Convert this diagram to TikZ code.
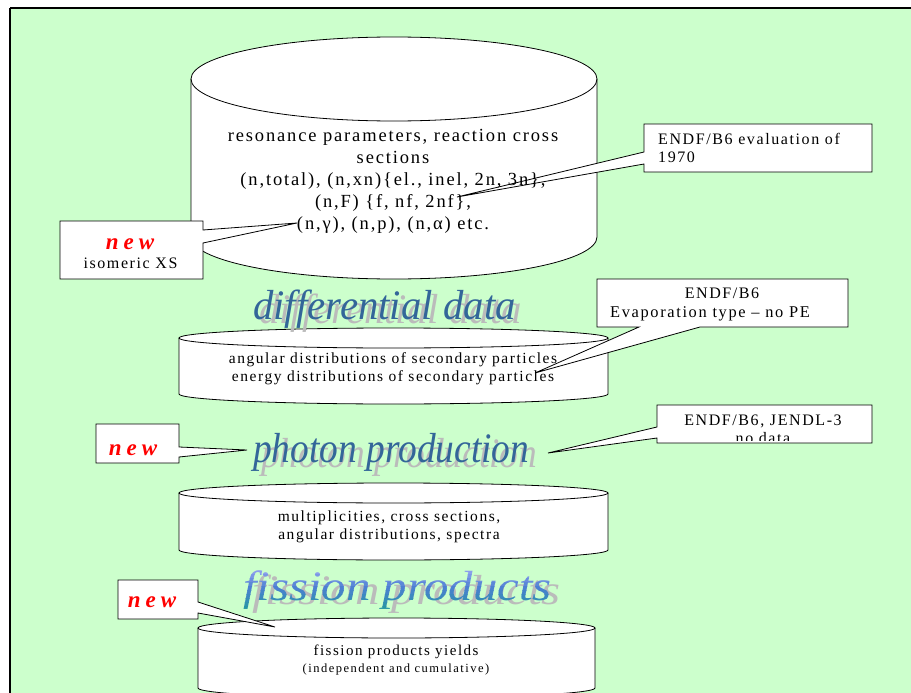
\documentclass[tikz,border=0pt]{standalone}
\usepackage{fontspec}
\setmainfont{Liberation Serif}
\newfontfamily\trk[LetterSpace=10]{Liberation Serif}
\newfontfamily\trkwide[LetterSpace=12]{Liberation Serif}
\newfontfamily\tagfont[LetterSpace=22]{Liberation Serif}
\usetikzlibrary{calc}

\definecolor{panelgreen}{HTML}{CCFFCC}
\definecolor{titleblue}{HTML}{336699}
\definecolor{shadowgray}{HTML}{BBBBBB}
\definecolor{fissTop}{HTML}{9AA6F2}
\definecolor{fissMid}{HTML}{4C80D2}
\definecolor{fissBot}{HTML}{1E9A9A}

\tikzset{
  drumline/.style={draw=black, line width=0.8pt},
  callout/.style={fill=white, draw=black, line width=0.8pt, line join=miter},
  cyltext/.style={inner sep=0pt, align=center, font=\trk\fontsize{15.5}{18}\selectfont},
  bigtext/.style={inner sep=0pt, align=center, font=\trk\fontsize{18.5}{22}\selectfont},
  notetext/.style={inner sep=0pt, font=\trk\fontsize{16}{18}\selectfont},
  newtag/.style={inner sep=0pt, text=red, font=\tagfont\bfseries\itshape\fontsize{23}{23}\selectfont},
  headline/.style={inner sep=0pt, anchor=base west, text=titleblue, font=\itshape\fontsize{40}{40}\selectfont},
  headshadow/.style={headline, text=shadowgray},
}

% drum: centre x, top-ellipse y, bottom-ellipse y, x radius, y radius
\newcommand{\drum}[5]{%
  \fill[white] ({#1-#4},#2) -- ({#1-#4},#3)
     arc[start angle=180, end angle=0, x radius=#4, y radius=#5] -- ({#1+#4},#2) -- cycle;
  \fill[white] (#1,#2) ellipse[x radius=#4, y radius=#5];
  \draw[drumline] ({#1-#4},#2) -- ({#1-#4},#3)
     arc[start angle=180, end angle=0, x radius=#4, y radius=#5] -- ({#1+#4},#2);
  \draw[drumline] (#1,#2) ellipse[x radius=#4, y radius=#5];
}
\newcommand{\fisstitle}{\scalebox{1.22}[1.05]{fission products}}

\begin{document}
\begin{tikzpicture}[x=1pt, y=-1pt]
\useasboundingbox (0,0) rectangle (911,693);

% panel
\fill[panelgreen] (10,8) rectangle (911,693);
\draw[line width=2pt] (10,8) -- (911,8);
\draw[line width=1.2pt] (10,8) -- (10,693);

% data drums
\drum{394}{79}{237}{203}{42}
\drum{393.5}{338}{394}{214.5}{10}
\drum{393.5}{493}{550}{214.5}{10}
\drum{396.5}{628}{688}{198.5}{10}

% section headings with drop shadows
\node[headshadow] at (259,323) {\scalebox{1.02}[1.05]{differential data}};
\node[headline] (hdiff) at (253,319) {\scalebox{1.02}[1.05]{differential data}};
\node[headshadow] at (261,467) {\scalebox{0.935}[1.05]{photon production}};
\node[headline] (hphot) at (253,462) {\scalebox{0.935}[1.05]{photon production}};
\node[headshadow] at (252,604) {\fisstitle};
% graded fill of the last heading, painted band by band
\foreach \i in {0,...,11}{
  \pgfmathtruncatemacro\pa{min(100,\i*20)}
  \pgfmathtruncatemacro\pb{max(0,(\i-5)*16)}
  \colorlet{bandtmp}{fissMid!\pa!fissTop}
  \colorlet{bandc}{fissBot!\pb!bandtmp}
  \pgfmathsetmacro\ya{566+\i*4}
  \begin{scope}
    \clip (230,\ya) rectangle (580,{\ya+4.6});
    \node[headline, text=bandc] (hfiss\i) at (243,600) {\fisstitle};
  \end{scope}
}

% pointer tips
\coordinate (tipEval) at (457,197);
\coordinate (tipIso) at (297,223);
\coordinate (tipEvap) at (535,373);
\coordinate (tipJendl) at (548,453);
\coordinate (tipPhot) at (247,450);
\coordinate (tipFiss) at (275,627);

% callouts
\draw[callout] (644,124) -- (872,124) -- (872,172) -- (644,172) -- (644,164)
  -- (tipEval) -- (644,152) -- cycle;
\draw[callout] (60,221) -- (203,221) -- (203,230) -- (tipIso) -- (203,243)
  -- (203,279) -- (60,279) -- cycle;
\draw[callout] (597,279) -- (848,279) -- (848,327) -- (700,327) -- (tipEvap)
  -- (639,327) -- (597,327) -- cycle;
\draw[callout] (657,405) -- (872,405) -- (872,443) -- (657,443) -- (657,438)
  -- (tipJendl) -- (657,427) -- cycle;
\draw[callout] (96,424) -- (179,424) -- (179,447) -- (tipPhot) -- (179,457)
  -- (179,463) -- (96,463) -- cycle;
\draw[callout] (118,580) -- (198,580) -- (198,602) -- (tipFiss) -- (198,613)
  -- (198,619) -- (118,619) -- cycle;

% drum contents (base anchor sits on the last line)
\node[bigtext, anchor=base] (xs) at (393,229)
  {resonance parameters, reaction cross\\
   sections\\
   (n,total), (n,xn)\{el., inel, 2n, 3n\},\\
   (n,F) \{f, nf, 2nf\},\\
   (n,γ), (n,p), (n,α) etc.};
\node[cyltext, anchor=base] (diffx) at (393,381)
  {angular distributions of secondary particles\\
   energy distributions of secondary particles};
\node[cyltext, anchor=base] (photx) at (389,539)
  {multiplicities, cross sections,\\
   angular distributions, spectra};
\node[inner sep=0pt, anchor=base, font=\trk\fontsize{15}{17}\selectfont] (fissx) at (396,655)
  {fission products yields};
\node[inner sep=0pt, anchor=base, font=\trkwide\fontsize{12.5}{14}\selectfont] (fissy) at (396,672)
  {(independent and cumulative)};

% callout texts
\node[notetext, anchor=base west, align=left] (eval) at (658,162)
  {ENDF/B6 evaluation of\\1970};
\node[newtag, anchor=base] (new1) at (130,249) {new};
\node[notetext, anchor=base] (iso) at (130.5,268) {isomeric XS};
\node[notetext, anchor=base] (evap1) at (722,298) {ENDF/B6};
\node[notetext, anchor=base west, font=\trk\fontsize{16.4}{18}\selectfont] (evap2) at (610,317) {Evaporation type – no PE};
\node[notetext, anchor=base] (jendl) at (763,425) {ENDF/B6, JENDL-3};
\begin{scope}
  \clip (657,405) rectangle (872,440);
  \node[notetext, anchor=base] (nodata) at (763,443) {no data};
\end{scope}
\node[newtag, anchor=base] (new2) at (133,455) {new};
\node[newtag, anchor=base] (new3) at (152,607) {new};
\end{tikzpicture}
\end{document}
